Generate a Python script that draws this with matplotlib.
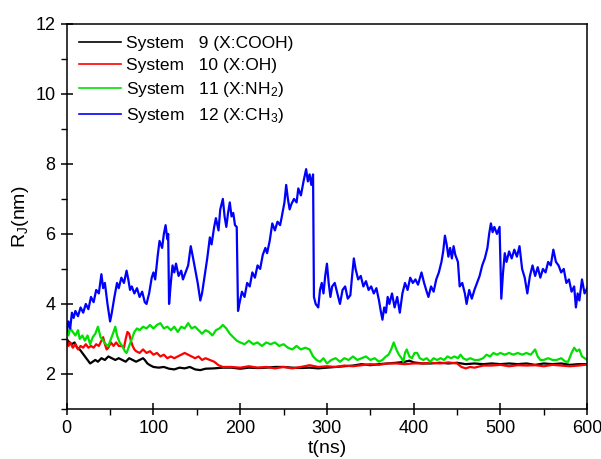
import matplotlib
matplotlib.use('Agg')
import matplotlib.pyplot as plt
from matplotlib.ticker import MultipleLocator

plt.rcParams['font.family'] = ['Liberation Sans', 'DejaVu Sans']
plt.rcParams['mathtext.fontset'] = 'custom'
plt.rcParams['mathtext.rm'] = 'Liberation Sans'
plt.rcParams['mathtext.it'] = 'Liberation Sans'

# System 12 (X:CH3)
t12 = [0, 2, 4, 6, 8, 10, 13, 16, 19, 22, 25, 28, 31, 34, 37, 40, 42, 44, 47, 50,
       52, 55, 58, 60, 63, 66, 69, 71, 73, 75, 78, 81, 84, 87, 90, 92, 95, 98, 100, 102,
       105, 107, 110, 112, 114, 116, 117, 118, 120, 122, 124, 126, 129, 132, 134, 137, 140, 143, 145, 148,
       151, 154, 156, 159, 162, 165, 167, 170, 172, 175, 177, 180, 182, 184, 186, 188, 190, 192, 194, 196,
       197.5, 199, 202, 205, 208, 211, 214, 217, 220, 223, 226, 229, 231, 234, 237, 240, 243, 246, 248, 251,
       253, 255, 257, 259, 262, 265, 267, 270, 273, 276, 278, 280, 282, 284, 285, 287, 290, 292, 294, 296,
       298, 300, 302, 304, 306, 309, 312, 315, 318, 321, 324, 327, 329, 331, 333, 336, 339, 342, 345, 348,
       351, 354, 357, 360, 362, 364, 366, 368, 370, 372, 375, 378, 381, 384, 387, 390, 393, 396, 399, 402,
       405, 409, 412, 415, 417, 420, 423, 426, 429, 432, 434, 436, 438, 440, 442, 444, 446, 448, 451, 453,
       456, 459, 461, 464, 467, 470, 473, 476, 479, 482, 485, 487, 489, 491, 493, 496, 499, 501, 503, 505,
       507, 510, 513, 516, 519, 522, 525, 528, 531, 534, 537, 540, 543, 546, 549, 552, 555, 558, 561, 564,
       567, 570, 573, 576, 579, 582, 585, 587, 589, 591, 594, 597, 600]
r12 = [3.2, 3.5, 3.3, 3.75, 3.6, 3.8, 3.65, 3.9, 3.75, 4.0, 3.85, 4.2, 4.05, 4.4, 4.3, 4.85, 4.45, 4.6, 4.0, 3.5,
       3.75, 4.2, 4.6, 4.45, 4.75, 4.6, 4.95, 4.7, 4.4, 4.5, 4.3, 4.45, 4.2, 4.35, 4.05, 4.0, 4.3, 4.75, 4.9, 4.7,
       5.4, 5.8, 5.6, 6.0, 6.25, 5.85, 6.0, 4.0, 4.6, 5.1, 4.9, 5.15, 4.8, 4.95, 4.7, 4.9, 5.1, 5.65, 5.4, 5.0,
       4.6, 4.1, 4.3, 4.8, 5.3, 5.9, 5.7, 6.2, 6.45, 6.1, 6.7, 7.0, 6.5, 6.2, 6.6, 6.9, 6.5, 6.6, 6.25, 6.2,
       3.8, 4.0, 4.35, 4.2, 4.6, 4.5, 4.9, 4.75, 5.1, 5.0, 5.4, 5.6, 5.45, 5.8, 6.3, 6.1, 6.35, 6.25, 6.5, 6.9,
       7.4, 7.0, 6.7, 6.85, 7.0, 6.9, 7.3, 7.1, 7.5, 7.85, 7.5, 7.7, 7.4, 7.7, 4.2, 4.0, 3.9, 4.4, 4.6, 4.3,
       4.8, 5.15, 4.6, 4.2, 4.5, 4.6, 4.3, 4.0, 4.4, 4.5, 4.15, 4.25, 4.8, 5.3, 5.0, 4.7, 4.8, 4.5, 4.65, 4.4,
       4.5, 4.3, 4.45, 4.1, 3.8, 3.55, 3.9, 3.75, 4.2, 4.0, 4.3, 3.9, 4.2, 3.75, 4.3, 4.6, 4.4, 4.75, 4.6, 4.7,
       4.55, 4.9, 4.6, 4.35, 4.2, 4.5, 4.35, 4.7, 4.9, 5.2, 5.5, 5.95, 5.7, 5.35, 5.6, 5.3, 5.65, 5.4, 5.2, 4.5,
       4.6, 4.3, 4.0, 4.4, 4.15, 4.4, 4.6, 4.8, 5.1, 5.3, 5.6, 6.0, 6.3, 6.05, 6.2, 6.0, 6.2, 4.15, 4.9, 5.45,
       5.2, 5.5, 5.3, 5.55, 5.35, 5.65, 5.0, 4.75, 4.3, 4.8, 5.1, 4.8, 5.05, 4.75, 5.0, 4.9, 5.2, 5.1, 5.55, 5.2,
       5.1, 4.9, 5.0, 4.6, 4.7, 4.35, 4.5, 3.9, 4.3, 4.1, 4.7, 4.3, 4.45]

# System 11 (X:NH2)
t11 = [0, 2, 4, 7, 10, 13, 15, 18, 21, 24, 27, 30, 33, 36, 39, 42, 45, 48, 51, 54,
       56, 58, 61, 64, 67, 69, 72, 75, 78, 81, 84, 88, 92, 96, 100, 104, 108, 112, 116, 120,
       124, 128, 132, 136, 140, 144, 148, 152, 156, 160, 164, 168, 172, 176, 180, 184, 188, 192, 196, 200,
       205, 210, 215, 220, 225, 230, 235, 240, 245, 250, 255, 260, 265, 270, 275, 280, 284, 288, 292, 296,
       300, 305, 310, 315, 320, 325, 330, 335, 340, 345, 350, 355, 360, 364, 368, 371, 374, 377, 380, 383,
       386, 388, 390, 392, 395, 398, 401, 404, 407, 411, 415, 419, 423, 427, 431, 435, 439, 443, 447, 451,
       454, 457, 461, 465, 470, 475, 480, 484, 488, 492, 496, 500, 505, 510, 515, 520, 525, 530, 535, 540,
       543, 546, 550, 555, 560, 565, 570, 575, 578, 582, 585, 588, 591, 594, 597, 600]
r11 = [3.35, 3.1, 3.3, 3.2, 3.1, 3.25, 3.0, 3.1, 2.95, 3.1, 2.85, 3.05, 3.15, 3.35, 3.05, 2.95, 2.85, 2.8, 3.0, 3.2,
       3.35, 3.1, 2.9, 2.8, 2.65, 2.6, 2.8, 3.0, 3.2, 3.3, 3.25, 3.35, 3.3, 3.4, 3.3, 3.4, 3.45, 3.3, 3.35, 3.25,
       3.35, 3.2, 3.35, 3.3, 3.45, 3.3, 3.35, 3.25, 3.15, 3.25, 3.2, 3.1, 3.25, 3.3, 3.4, 3.3, 3.15, 3.05, 2.95, 2.9,
       2.85, 2.95, 2.85, 2.9, 2.8, 2.9, 2.85, 2.9, 2.8, 2.85, 2.75, 2.7, 2.8, 2.7, 2.75, 2.7, 2.5, 2.4, 2.35, 2.45,
       2.3, 2.4, 2.45, 2.35, 2.45, 2.4, 2.5, 2.4, 2.45, 2.5, 2.4, 2.45, 2.35, 2.4, 2.5, 2.55, 2.7, 2.9, 2.7, 2.55,
       2.45, 2.35, 2.6, 2.7, 2.5, 2.45, 2.6, 2.6, 2.45, 2.4, 2.45, 2.35, 2.45, 2.4, 2.45, 2.4, 2.5, 2.45, 2.5, 2.45,
       2.55, 2.45, 2.4, 2.45, 2.4, 2.4, 2.45, 2.55, 2.5, 2.6, 2.55, 2.6, 2.55, 2.6, 2.55, 2.6, 2.55, 2.6, 2.55, 2.7,
       2.5, 2.4, 2.4, 2.45, 2.4, 2.4, 2.45, 2.35, 2.35, 2.6, 2.75, 2.65, 2.7, 2.5, 2.45, 2.4]

# System 10 (X:OH)
t10 = [0, 2, 4, 7, 10, 13, 16, 19, 22, 25, 28, 31, 34, 37, 40, 42, 44, 46, 48, 51,
       54, 57, 60, 63, 66, 68, 70, 72, 74, 76, 78, 80, 84, 88, 92, 96, 100, 104, 108, 112,
       116, 120, 124, 128, 132, 136, 140, 144, 148, 152, 156, 160, 165, 170, 175, 180, 185, 190, 200, 210,
       220, 230, 240, 250, 260, 270, 280, 290, 300, 310, 320, 330, 340, 350, 360, 370, 380, 390, 400, 410,
       420, 430, 440, 450, 455, 460, 465, 470, 480, 490, 500, 510, 520, 530, 540, 550, 560, 570, 580, 590, 600]
r10 = [3.0, 2.8, 2.9, 2.75, 2.85, 2.7, 2.8, 2.75, 2.85, 2.75, 2.8, 2.75, 2.85, 2.8, 2.95, 3.05, 2.85, 2.7, 2.75, 2.9,
       2.8, 2.9, 2.8, 2.8, 2.75, 3.0, 3.2, 3.15, 2.95, 2.8, 2.7, 2.65, 2.6, 2.7, 2.6, 2.65, 2.55, 2.6, 2.5, 2.55,
       2.45, 2.5, 2.45, 2.5, 2.55, 2.6, 2.55, 2.5, 2.45, 2.5, 2.4, 2.45, 2.4, 2.35, 2.25, 2.2, 2.2, 2.2, 2.18, 2.22,
       2.18, 2.2, 2.16, 2.2, 2.16, 2.2, 2.25, 2.2, 2.22, 2.2, 2.24, 2.22, 2.25, 2.28, 2.26, 2.3, 2.3, 2.28, 2.3, 2.3,
       2.32, 2.3, 2.33, 2.3, 2.2, 2.16, 2.2, 2.18, 2.24, 2.24, 2.26, 2.22, 2.25, 2.24, 2.25, 2.22, 2.26, 2.24, 2.22, 2.24, 2.27]

# System 9 (X:COOH)
t9 = [0, 3, 6, 9, 12, 15, 18, 21, 24, 27, 30, 33, 36, 40, 44, 48, 52, 56, 60, 64,
      68, 72, 76, 80, 84, 88, 90, 93, 96, 100, 106, 112, 118, 124, 130, 136, 142, 148, 154, 160,
      170, 180, 190, 200, 210, 220, 230, 240, 250, 260, 270, 280, 290, 300, 310, 320, 330, 340, 350, 360,
      370, 380, 390, 395, 400, 410, 420, 430, 440, 450, 460, 470, 480, 490, 500, 510, 520, 530, 540, 550,
      560, 570, 580, 590, 600]
r9 = [3.0, 2.9, 2.85, 2.9, 2.75, 2.7, 2.6, 2.5, 2.4, 2.3, 2.35, 2.4, 2.35, 2.45, 2.4, 2.5, 2.45, 2.4, 2.45, 2.4,
      2.35, 2.45, 2.4, 2.35, 2.4, 2.45, 2.4, 2.3, 2.25, 2.2, 2.18, 2.2, 2.15, 2.13, 2.18, 2.16, 2.2, 2.13, 2.11, 2.15,
      2.16, 2.18, 2.18, 2.15, 2.18, 2.17, 2.18, 2.2, 2.2, 2.18, 2.17, 2.18, 2.16, 2.18, 2.2, 2.22, 2.24, 2.28, 2.25, 2.28,
      2.3, 2.32, 2.35, 2.38, 2.33, 2.3, 2.3, 2.32, 2.3, 2.32, 2.28, 2.3, 2.28, 2.3, 2.28, 2.3, 2.28, 2.3, 2.26, 2.3,
      2.28, 2.3, 2.26, 2.28, 2.28]

labels = ['System   9 (X:COOH)', 'System   10 (X:OH)',
          'System   11 (X:NH$_2$)', 'System   12 (X:CH$_3$)']
colors = ['black', '#ff0000', '#00e000', '#0000ff']

fig = plt.figure(figsize=(6.01, 4.59), dpi=100)
ax = fig.add_axes([0.111, 0.109, 0.866, 0.839])

series = [(t9, r9), (t10, r10), (t11, r11), (t12, r12)]
for (t, r), lab, c in zip(series, labels, colors):
    ax.plot(t, r, color=c, lw=1.6, label=lab)

ax.set_xlim(0, 600)
ax.set_ylim(1, 12)
ax.xaxis.set_major_locator(MultipleLocator(100))
ax.xaxis.set_minor_locator(MultipleLocator(50))
ax.yaxis.set_major_locator(MultipleLocator(2))
ax.yaxis.set_minor_locator(MultipleLocator(1))
ax.tick_params(which='major', direction='inout', length=9, width=1.1, labelsize=13)
ax.tick_params(which='minor', direction='out', length=4, width=1.0)
for s in ax.spines.values():
    s.set_linewidth(1.1)

ax.set_xlabel('t(ns)', fontsize=14, labelpad=2)
ax.set_ylabel('R$_\\mathregular{J}$(nm)', fontsize=14, labelpad=3)

leg = ax.legend(loc='upper left', frameon=False, fontsize=12.5, handlelength=2.4,
                handletextpad=0.3, labelspacing=0.4, borderaxespad=0.3)
for h in leg.get_lines():
    h.set_linewidth(1.2)

fig.savefig('out.png', dpi=100)
